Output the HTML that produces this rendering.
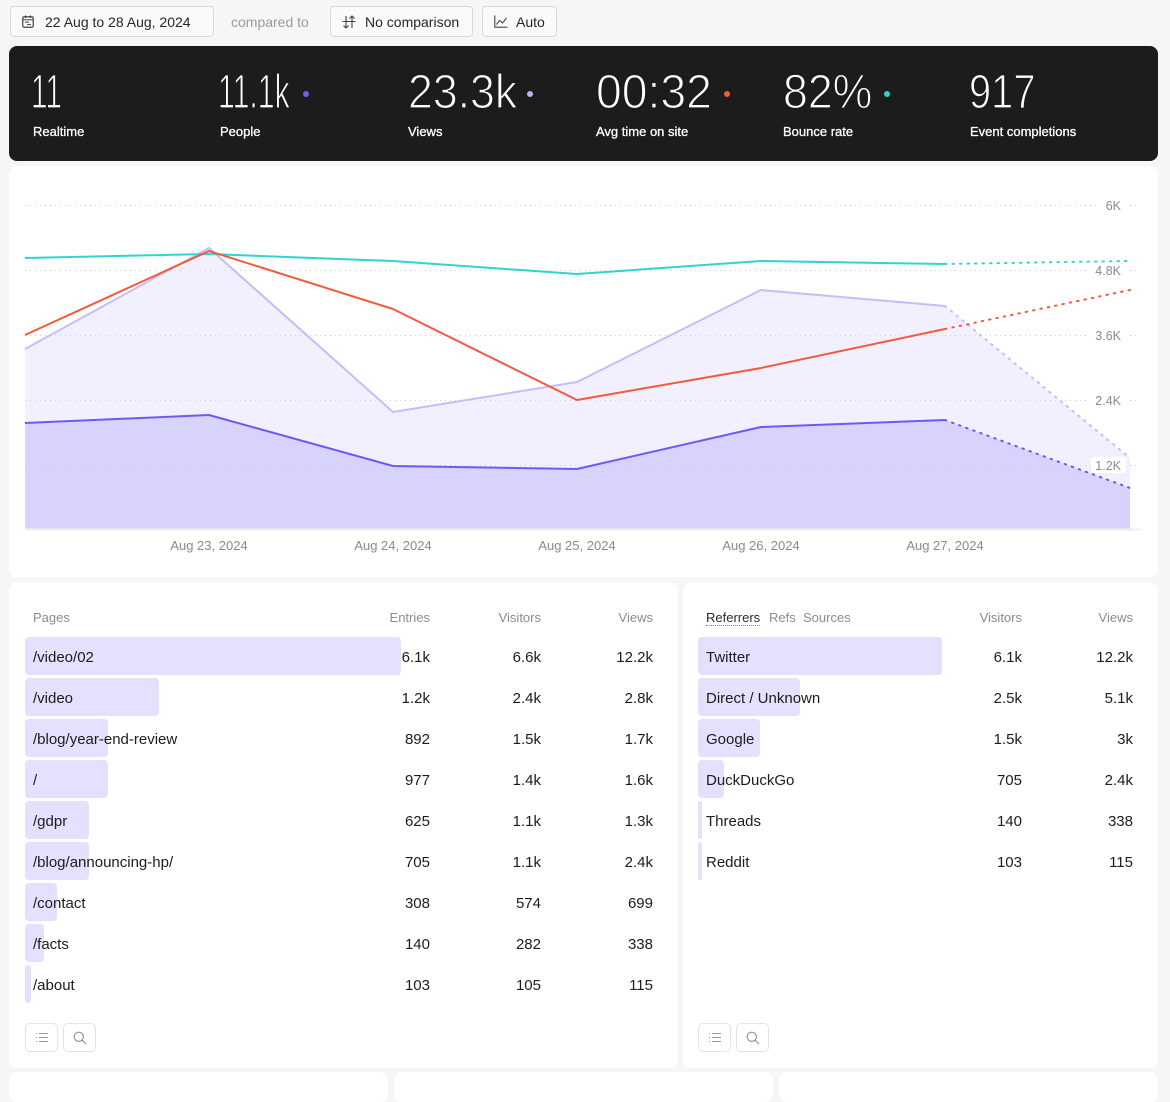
<!DOCTYPE html>
<html><head><meta charset="utf-8">
<style>
*{margin:0;padding:0;box-sizing:border-box}
body{width:1170px;height:1080px;background:#f6f6f6;font-family:"Liberation Sans",sans-serif;position:relative;overflow:hidden;color:#1a1a1a}
.btn{position:absolute;top:6px;height:31px;border:1px solid #d9d9d9;border-radius:4px;background:#fafafa;font-size:14px;color:#262626;line-height:31px;white-space:nowrap}
.btn svg{position:absolute;top:8px}
.btn span{position:absolute;top:0}
.card{position:absolute;background:#fff;border-radius:8px}
.dark{position:absolute;left:9px;top:46px;width:1149px;height:115px;background:#1b1c1b;border-radius:8px}
.num{position:absolute;top:69px;font-size:48px;line-height:48px;color:#fff;white-space:nowrap;transform-origin:0 0;-webkit-text-stroke:1.2px #1b1c1b}
.lbl{position:absolute;top:125px;font-size:13px;line-height:13px;color:#fff;white-space:nowrap;-webkit-text-stroke:0.3px #fff}
.dot{position:absolute;top:91px;width:6px;height:6px;border-radius:50%}
.hdr{position:absolute;top:611px;font-size:13px;line-height:13px;color:#8c8c8c;white-space:nowrap}
.bar{position:absolute;height:38px;background:#e4e0fd;border-radius:4px}
.t{position:absolute;font-size:15px;line-height:41px;height:38px;white-space:nowrap;color:#1c1c1c}
.r{text-align:right}
.ib{position:absolute;top:1023px;width:33px;height:29px;border:1px solid #e3e3e3;border-radius:5px;background:#fff}
.ib svg{position:absolute;left:9px;top:7px}
</style></head><body>

<!-- top bar -->
<div class="btn" style="left:10px;width:204px">
  <svg style="left:11px" width="12" height="13" viewBox="0 0 12 13"><rect x="0.75" y="1.75" width="10.5" height="10.5" rx="1.5" fill="none" stroke="#444" stroke-width="1.2"/><line x1="3.5" y1="0.5" x2="3.5" y2="3" stroke="#444" stroke-width="1.2"/><line x1="8.5" y1="0.5" x2="8.5" y2="3" stroke="#444" stroke-width="1.2"/><line x1="1" y1="4.8" x2="11" y2="4.8" stroke="#444" stroke-width="1"/><line x1="3" y1="7.2" x2="7" y2="7.2" stroke="#444" stroke-width="1"/><line x1="5" y1="9.6" x2="9" y2="9.6" stroke="#444" stroke-width="1"/></svg>
  <span style="left:34px">22 Aug to 28 Aug, 2024</span>
</div>
<div style="position:absolute;left:231px;top:7px;line-height:31px;font-size:14px;color:#9a9a9a">compared to</div>
<div class="btn" style="left:330px;width:143px">
  <svg style="left:11px" width="14" height="14" viewBox="0 0 14 14"><path d="M4 1v12M1.5 10.5L4 13l2.5-2.5M10 13V1M7.5 3.5L10 1l2.5 2.5M0.5 6.5h13" fill="none" stroke="#444" stroke-width="1.1"/></svg>
  <span style="left:34px">No comparison</span>
</div>
<div class="btn" style="left:482px;width:75px">
  <svg style="left:11px" width="14" height="13" viewBox="0 0 14 13"><path d="M0.8 0.5v11.7h12.7" fill="none" stroke="#444" stroke-width="1.1"/><path d="M2.5 9.5l3-4 3 2.5 4-5" fill="none" stroke="#444" stroke-width="1.1"/></svg>
  <span style="left:33px">Auto</span>
</div>

<!-- stats -->
<div class="dark"></div>
<div class="num" style="left:31px;transform:scaleX(0.62)">11</div>
<div class="lbl" style="left:33px">Realtime</div>
<div class="num" style="left:218px;transform:scaleX(0.63)">11.1k</div>
<div class="dot" style="left:303px;background:#6d5cf6"></div>
<div class="lbl" style="left:220px">People</div>
<div class="num" style="left:408px;transform:scaleX(0.93)">23.3k</div>
<div class="dot" style="left:527px;background:#b9b1f9"></div>
<div class="lbl" style="left:408px">Views</div>
<div class="num" style="left:596px;transform:scaleX(0.965)">00:32</div>
<div class="dot" style="left:724px;background:#f25a3c"></div>
<div class="lbl" style="left:596px">Avg time on site</div>
<div class="num" style="left:783px;transform:scaleX(0.93)">82%</div>
<div class="dot" style="left:884px;background:#2dd4cf"></div>
<div class="lbl" style="left:783px">Bounce rate</div>
<div class="num" style="left:969px;transform:scaleX(0.83)">917</div>
<div class="lbl" style="left:970px">Event completions</div>

<!-- chart card -->
<div class="card" style="left:9px;top:166px;width:1149px;height:411px"></div>
<svg style="position:absolute;left:0;top:0" width="1170" height="590" viewBox="0 0 1170 590">
  <path d="M25,349 L209,248 L393,412 L577,382 L761,290 L945,306 L1130,458 L1130,529 L25,529 Z" fill="#f2f0fe"/>
  <path d="M25,423 L209,415 L393,466 L577,469 L761,427 L945,420 L1130,488 L1130,529 L25,529 Z" fill="#d8d3fd"/>
  <line x1="25" y1="529.5" x2="1141" y2="529.5" stroke="#eeeeee" stroke-width="2"/>
  <g stroke="#cfcfcf" stroke-width="1" stroke-dasharray="1 4">
    <line x1="25" y1="205.5" x2="1140" y2="205.5"/>
    <line x1="25" y1="270.5" x2="1140" y2="270.5"/>
    <line x1="25" y1="335.5" x2="1140" y2="335.5"/>
    <line x1="25" y1="400.5" x2="1140" y2="400.5"/>
    <line x1="25" y1="465.5" x2="1140" y2="465.5"/>
  </g>
  <polyline points="25,349 209,248 393,412 577,382 761,290 945,306" fill="none" stroke="#c5bcfb" stroke-width="2" stroke-linejoin="round"/>
  <line x1="945" y1="306" x2="1130" y2="458" stroke="#c5bcfb" stroke-width="2" stroke-dasharray="1.5 6" stroke-linecap="round"/>
  <polyline points="25,423 209,415 393,466 577,469 761,427 945,420" fill="none" stroke="#6b5af6" stroke-width="2" stroke-linejoin="round"/>
  <line x1="945" y1="420" x2="1130" y2="488" stroke="#6b5af6" stroke-width="2" stroke-dasharray="1.5 6" stroke-linecap="round"/>
  <polyline points="25,258 209,254 393,261 577,274 761,261 945,264" fill="none" stroke="#2ed5d0" stroke-width="2" stroke-linejoin="round"/>
  <line x1="945" y1="264" x2="1130" y2="261" stroke="#2ed5d0" stroke-width="2" stroke-dasharray="1.5 6" stroke-linecap="round"/>
  <polyline points="25,335 209,251 393,309 577,400 761,368 945,329" fill="none" stroke="#f25a3c" stroke-width="2" stroke-linejoin="round"/>
  <line x1="945" y1="329" x2="1130" y2="290" stroke="#f25a3c" stroke-width="2" stroke-dasharray="1.5 6" stroke-linecap="round"/>
  <g fill="#fff">
    <rect x="1100" y="198" width="26" height="15" rx="3"/>
    <rect x="1090" y="263" width="36" height="15" rx="3"/>
    <rect x="1090" y="328" width="36" height="15" rx="3"/>
    <rect x="1090" y="393" width="36" height="15" rx="3"/>
    <rect x="1091" y="457" width="35" height="16" rx="3"/>
  </g>
  <g font-family="Liberation Sans, sans-serif" font-size="12.5" fill="#8a8a8a" text-anchor="end">
    <text x="1121" y="210">6K</text>
    <text x="1121" y="275">4.8K</text>
    <text x="1121" y="340">3.6K</text>
    <text x="1121" y="405">2.4K</text>
    <text x="1121" y="470">1.2K</text>
  </g>
  <g font-family="Liberation Sans, sans-serif" font-size="13" fill="#8a8a8a" text-anchor="middle">
    <text x="209" y="550">Aug 23, 2024</text>
    <text x="393" y="550">Aug 24, 2024</text>
    <text x="577" y="550">Aug 25, 2024</text>
    <text x="761" y="550">Aug 26, 2024</text>
    <text x="945" y="550">Aug 27, 2024</text>
  </g>
</svg>

<!-- left table card -->
<div class="card" style="left:9px;top:582px;width:669px;height:486px"></div>
<div class="hdr" style="left:33px">Pages</div>
<div class="hdr r" style="left:330px;width:100px">Entries</div>
<div class="hdr r" style="left:441px;width:100px">Visitors</div>
<div class="hdr r" style="left:553px;width:100px">Views</div>

<div class="bar" style="left:25px;top:637px;width:376px"></div>
<div class="bar" style="left:25px;top:678px;width:134px"></div>
<div class="bar" style="left:25px;top:719px;width:83px"></div>
<div class="bar" style="left:25px;top:760px;width:83px"></div>
<div class="bar" style="left:25px;top:801px;width:64px"></div>
<div class="bar" style="left:25px;top:842px;width:64px"></div>
<div class="bar" style="left:25px;top:883px;width:32px"></div>
<div class="bar" style="left:25px;top:924px;width:19px"></div>
<div class="bar" style="left:25px;top:965px;width:6px;border-radius:3px"></div>

<div class="t" style="left:33px;top:637px">/video/02</div>
<div class="t" style="left:33px;top:678px">/video</div>
<div class="t" style="left:33px;top:719px">/blog/year-end-review</div>
<div class="t" style="left:33px;top:760px">/</div>
<div class="t" style="left:33px;top:801px">/gdpr</div>
<div class="t" style="left:33px;top:842px">/blog/announcing-hp/</div>
<div class="t" style="left:33px;top:883px">/contact</div>
<div class="t" style="left:33px;top:924px">/facts</div>
<div class="t" style="left:33px;top:965px">/about</div>

<div class="t r" style="left:370px;width:60px;top:637px">6.1k</div>
<div class="t r" style="left:370px;width:60px;top:678px">1.2k</div>
<div class="t r" style="left:370px;width:60px;top:719px">892</div>
<div class="t r" style="left:370px;width:60px;top:760px">977</div>
<div class="t r" style="left:370px;width:60px;top:801px">625</div>
<div class="t r" style="left:370px;width:60px;top:842px">705</div>
<div class="t r" style="left:370px;width:60px;top:883px">308</div>
<div class="t r" style="left:370px;width:60px;top:924px">140</div>
<div class="t r" style="left:370px;width:60px;top:965px">103</div>

<div class="t r" style="left:481px;width:60px;top:637px">6.6k</div>
<div class="t r" style="left:481px;width:60px;top:678px">2.4k</div>
<div class="t r" style="left:481px;width:60px;top:719px">1.5k</div>
<div class="t r" style="left:481px;width:60px;top:760px">1.4k</div>
<div class="t r" style="left:481px;width:60px;top:801px">1.1k</div>
<div class="t r" style="left:481px;width:60px;top:842px">1.1k</div>
<div class="t r" style="left:481px;width:60px;top:883px">574</div>
<div class="t r" style="left:481px;width:60px;top:924px">282</div>
<div class="t r" style="left:481px;width:60px;top:965px">105</div>

<div class="t r" style="left:593px;width:60px;top:637px">12.2k</div>
<div class="t r" style="left:593px;width:60px;top:678px">2.8k</div>
<div class="t r" style="left:593px;width:60px;top:719px">1.7k</div>
<div class="t r" style="left:593px;width:60px;top:760px">1.6k</div>
<div class="t r" style="left:593px;width:60px;top:801px">1.3k</div>
<div class="t r" style="left:593px;width:60px;top:842px">2.4k</div>
<div class="t r" style="left:593px;width:60px;top:883px">699</div>
<div class="t r" style="left:593px;width:60px;top:924px">338</div>
<div class="t r" style="left:593px;width:60px;top:965px">115</div>

<div class="ib" style="left:25px"><svg width="14" height="13" viewBox="0 0 14 13"><g stroke="#9a9a9a" stroke-width="1"><line x1="1" y1="2.5" x2="2" y2="2.5"/><line x1="4" y1="2.5" x2="13" y2="2.5"/><line x1="1" y1="6.5" x2="2" y2="6.5"/><line x1="4" y1="6.5" x2="13" y2="6.5"/><line x1="1" y1="10.5" x2="2" y2="10.5"/><line x1="4" y1="10.5" x2="13" y2="10.5"/></g></svg></div>
<div class="ib" style="left:63px"><svg width="14" height="14" viewBox="0 0 14 14"><circle cx="5.8" cy="5.8" r="4.6" fill="none" stroke="#8f8f8f" stroke-width="1.1"/><line x1="9.2" y1="9.2" x2="13" y2="13" stroke="#8f8f8f" stroke-width="1.1"/></svg></div>

<!-- right table card -->
<div class="card" style="left:683px;top:582px;width:475px;height:486px"></div>
<div class="hdr" style="left:706px;color:#2a2a2a;border-bottom:1.5px dotted #8b7cf6;padding-bottom:1px">Referrers</div>
<div class="hdr" style="left:769px">Refs</div>
<div class="hdr" style="left:803px">Sources</div>
<div class="hdr r" style="left:922px;width:100px">Visitors</div>
<div class="hdr r" style="left:1033px;width:100px">Views</div>

<div class="bar" style="left:698px;top:637px;width:244px"></div>
<div class="bar" style="left:698px;top:678px;width:102px"></div>
<div class="bar" style="left:698px;top:719px;width:62px"></div>
<div class="bar" style="left:698px;top:760px;width:26px"></div>
<div class="bar" style="left:698px;top:801px;width:4px;border-radius:2px"></div>
<div class="bar" style="left:698px;top:842px;width:4px;border-radius:2px"></div>

<div class="t" style="left:706px;top:637px">Twitter</div>
<div class="t" style="left:706px;top:678px">Direct / Unknown</div>
<div class="t" style="left:706px;top:719px">Google</div>
<div class="t" style="left:706px;top:760px">DuckDuckGo</div>
<div class="t" style="left:706px;top:801px">Threads</div>
<div class="t" style="left:706px;top:842px">Reddit</div>

<div class="t r" style="left:962px;width:60px;top:637px">6.1k</div>
<div class="t r" style="left:962px;width:60px;top:678px">2.5k</div>
<div class="t r" style="left:962px;width:60px;top:719px">1.5k</div>
<div class="t r" style="left:962px;width:60px;top:760px">705</div>
<div class="t r" style="left:962px;width:60px;top:801px">140</div>
<div class="t r" style="left:962px;width:60px;top:842px">103</div>

<div class="t r" style="left:1073px;width:60px;top:637px">12.2k</div>
<div class="t r" style="left:1073px;width:60px;top:678px">5.1k</div>
<div class="t r" style="left:1073px;width:60px;top:719px">3k</div>
<div class="t r" style="left:1073px;width:60px;top:760px">2.4k</div>
<div class="t r" style="left:1073px;width:60px;top:801px">338</div>
<div class="t r" style="left:1073px;width:60px;top:842px">115</div>

<div class="ib" style="left:698px"><svg width="14" height="13" viewBox="0 0 14 13"><g stroke="#9a9a9a" stroke-width="1"><line x1="1" y1="2.5" x2="2" y2="2.5"/><line x1="4" y1="2.5" x2="13" y2="2.5"/><line x1="1" y1="6.5" x2="2" y2="6.5"/><line x1="4" y1="6.5" x2="13" y2="6.5"/><line x1="1" y1="10.5" x2="2" y2="10.5"/><line x1="4" y1="10.5" x2="13" y2="10.5"/></g></svg></div>
<div class="ib" style="left:736px"><svg width="14" height="14" viewBox="0 0 14 14"><circle cx="5.8" cy="5.8" r="4.6" fill="none" stroke="#8f8f8f" stroke-width="1.1"/><line x1="9.2" y1="9.2" x2="13" y2="13" stroke="#8f8f8f" stroke-width="1.1"/></svg></div>

<!-- bottom strip cards -->
<div class="card" style="left:9px;top:1072px;width:379px;height:30px"></div>
<div class="card" style="left:394px;top:1072px;width:379px;height:30px"></div>
<div class="card" style="left:779px;top:1072px;width:379px;height:30px"></div>

</body></html>
